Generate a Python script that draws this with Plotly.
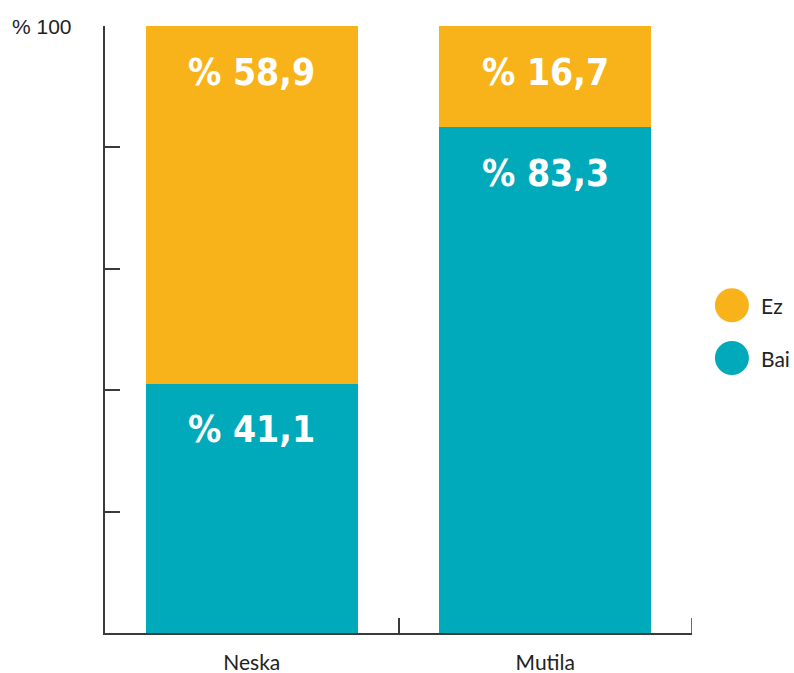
import plotly.graph_objects as go

categories = ["Neska", "Mutila"]
bai_values = [41.1, 83.3]
ez_values = [58.9, 16.7]
series_names = ["Bai", "Ez"]
y_tick_values = [0, 20, 40, 60, 80, 100]
y_top_label = "% 100"

ORANGE = "#F9B31A"
TEAL = "#00AABB"
AXIS = "#3a3a3a"
LABEL_FONT = "DejaVu Sans Condensed, Liberation Sans Narrow, sans-serif"
TEXT_FONT = "Lato, Open Sans, sans-serif"

fig = go.Figure()
fig.add_trace(go.Bar(x=categories, y=bai_values, name=series_names[0],
                     marker=dict(color=TEAL, line=dict(width=0)), showlegend=False))
fig.add_trace(go.Bar(x=categories, y=ez_values, name=series_names[1],
                     marker=dict(color=ORANGE, line=dict(width=0)), showlegend=False))

def fmt(v):
    return "% " + f"{v:.1f}".replace(".", ",")

annotations = []
for i, c in enumerate(categories):
    tops = [bai_values[i], bai_values[i] + ez_values[i]]
    vals = [bai_values[i], ez_values[i]]
    for top, v in zip(tops, vals):
        annotations.append(dict(x=c, y=top, xref="x", yref="y", text=fmt(v),
                                showarrow=False, yanchor="middle", yshift=-46,
                                font=dict(family=LABEL_FONT, size=37, color="white", weight="bold")))

annotations.append(dict(x=-0.162, y=100, xref="paper", yref="y", text=y_top_label,
                        showarrow=False, xanchor="left", yanchor="middle",
                        font=dict(family="Liberation Sans, Arial, sans-serif", size=21, color="#222")))

legend_items = [(series_names[1], ORANGE, 0.540), (series_names[0], TEAL, 0.453)]
shapes = []
for name, col, yp in legend_items:
    shapes.append(dict(type="circle", xref="paper", yref="paper", xsizemode="pixel", ysizemode="pixel",
                       xanchor=1.068, yanchor=yp, x0=-17, x1=17, y0=-17, y1=17,
                       fillcolor=col, line=dict(width=0)))
    annotations.append(dict(x=1.114, y=yp, xref="paper", yref="paper", text=name, showarrow=False,
                            xanchor="left", yanchor="middle",
                            font=dict(family=TEXT_FONT, size=21, color="#222")))

# closing boundary tick at the right end of the category axis
shapes.append(dict(type="line", xref="x", yref="y", ysizemode="pixel", yanchor=0,
                   x0=len(categories) - 0.5, x1=len(categories) - 0.5, y0=0, y1=15,
                   line=dict(color=AXIS, width=1.5)))

fig.update_layout(
    barmode="stack",
    bargap=0.278,
    width=794, height=673,
    margin=dict(l=105, r=102, t=26, b=40, autoexpand=False),
    plot_bgcolor="white", paper_bgcolor="white",
    showlegend=False,
    annotations=annotations,
    shapes=shapes,
    xaxis=dict(type="category", range=[-0.5, 1.5], showline=True, linecolor=AXIS, linewidth=1.5,
               ticks="inside", tickson="boundaries", ticklen=15, tickcolor=AXIS, tickwidth=1.5,
               showgrid=False, zeroline=False, ticklabelstandoff=10, automargin=False,
               tickfont=dict(family=TEXT_FONT, size=21, color="#222")),
    yaxis=dict(range=[0, 100], showline=True, linecolor=AXIS, linewidth=1.5,
               tickvals=y_tick_values, ticks="inside", ticklen=15, tickcolor=AXIS, tickwidth=1.5,
               showticklabels=False, showgrid=False, zeroline=False, automargin=False),
)

fig.write_html("out.html", config={"displayModeBar": False},
               post_script="document.body.style.margin='0';document.body.style.padding='0';")
